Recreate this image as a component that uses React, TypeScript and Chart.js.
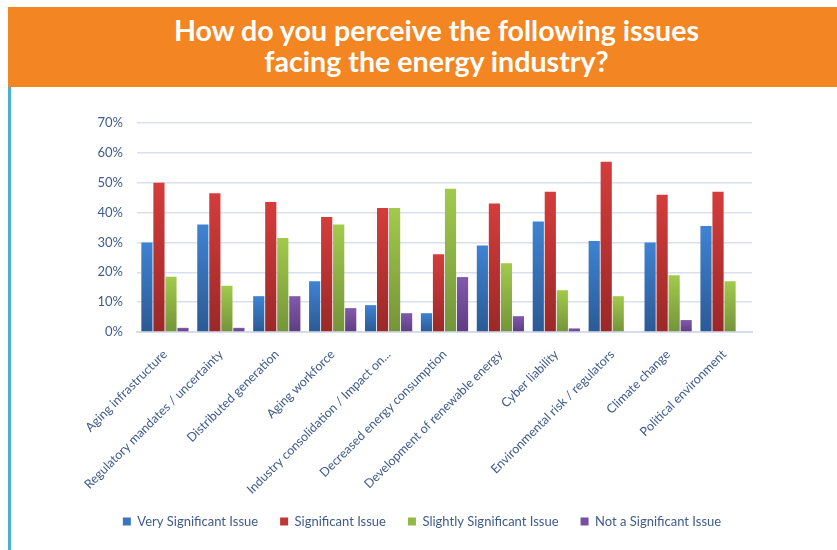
import React, { useEffect, useRef } from "react";
import { Chart, registerables } from "chart.js";

Chart.register(...registerables);

const categories = [
  "Aging infrastructure",
  "Regulatory mandates / uncertainty",
  "Distributed generation",
  "Aging workforce",
  "Industry consolidation / Impact on...",
  "Decreased energy consumption",
  "Development of renewable energy",
  "Cyber liability",
  "Environmental risk / regulators",
  "Climate change",
  "Political environment",
];

const seriesNames = [
  "Very Significant Issue",
  "Significant Issue",
  "Slightly Significant Issue",
  "Not a Significant Issue",
];

const verySignificant = [30, 36, 12, 17, 9, 6.3, 29, 37, 30.5, 30, 35.5];
const significant = [50, 46.5, 43.5, 38.5, 41.5, 26, 43, 47, 57, 46, 47];
const slightlySignificant = [18.5, 15.5, 31.5, 36, 41.5, 48, 23, 14, 12, 19, 17];
const notSignificant = [1.4, 1.4, 12, 8, 6.3, 18.4, 5.3, 1.2, 0, 4, 0];

const yTicks = [0, 10, 20, 30, 40, 50, 60, 70];

const TEXT = "#3F5B8A";

function grad(top: string, bottom: string) {
  return (ctx: any) => {
    const chart = ctx.chart;
    const area = chart.chartArea;
    if (!area || ctx.type !== "data") return top;
    const v = ctx.raw as number;
    const yScale = chart.scales.y;
    const y0 = yScale.getPixelForValue(v);
    const y1 = yScale.getPixelForValue(0);
    if (!(y1 > y0)) return top;
    const g = chart.ctx.createLinearGradient(0, y0, 0, y1);
    g.addColorStop(0, top);
    g.addColorStop(1, bottom);
    return g;
  };
}

export default function App() {
  const ref = useRef<HTMLCanvasElement | null>(null);

  useEffect(() => {
    if (!ref.current) return;
    const values = [verySignificant, significant, slightlySignificant, notSignificant];
    const colors = [
      ["#3E83D2", "#2B5A95", "#3A75C0"],
      ["#D43D3B", "#9B2828", "#C03535"],
      ["#A2CA4C", "#74943A", "#92B845"],
      ["#8259AC", "#5E3E84", "#7550A0"],
    ];
    const chart = new Chart(ref.current, {
      type: "bar",
      data: {
        labels: categories,
        datasets: values.map((d, i) => ({
          label: seriesNames[i],
          data: d,
          backgroundColor: grad(colors[i][0], colors[i][1]),
          borderWidth: 0,
          categoryPercentage: 0.86,
          barPercentage: 0.93,
        })),
      },
      options: {
        animation: false,
        responsive: false,
        maintainAspectRatio: false,
        layout: { padding: { top: 35, right: 80, bottom: 0, left: 80 } },
        plugins: {
          tooltip: { enabled: false },
          legend: {
            position: "bottom",
            labels: {
              boxWidth: 8,
              boxHeight: 8,
              padding: 22,
              color: TEXT,
              font: { family: "Lato, sans-serif", size: 13 },
              generateLabels: (c: any) =>
                c.data.datasets.map((ds: any, i: number) => ({
                  text: ds.label,
                  fillStyle: colors[i][2],
                  strokeStyle: colors[i][2],
                  lineWidth: 0,
                  fontColor: TEXT,
                  hidden: false,
                  datasetIndex: i,
                })),
            },
          },
        },
        scales: {
          x: {
            grid: { display: false },
            border: { display: true, color: "#D5DCEB", width: 2 },
            ticks: {
              minRotation: 45,
              maxRotation: 45,
              autoSkip: false,
              padding: 7,
              color: TEXT,
              font: { family: "Lato, sans-serif", size: 12.5 },
            },
            afterFit: (s: any) => {
              s.height = 161;
              s.paddingLeft = 0;
              s.paddingRight = 0;
              s._computeLabelArea = () => undefined;
            },
          },
          y: {
            min: 0,
            max: 70,
            afterBuildTicks: (s: any) => {
              s.ticks = yTicks.map((v) => ({ value: v }));
            },
            grid: { color: "#D9DFEC", lineWidth: 1.5, drawTicks: false },
            border: { display: false },
            ticks: {
              padding: 14,
              color: TEXT,
              font: { family: "Lato, sans-serif", size: 13 },
              callback: (v: any) => `${v}%`,
            },
            afterFit: (s: any) => {
              s.width = 45;
            },
          },
        },
      },
    });
    return () => chart.destroy();
  }, []);

  return (
    <div style={{ position: "absolute", left: 0, top: 0, width: 837, height: 550, background: "#fff", overflow: "hidden" }}>
      <div
        style={{
          position: "absolute",
          left: 8,
          top: 7,
          width: 829,
          height: 80,
          background: "#F38623",
        }}
      >
        <div
          style={{
            position: "absolute",
            left: 14,
            top: 8,
            width: 829,
            textAlign: "center",
            color: "#fff",
            fontFamily: "Lato, sans-serif",
            fontWeight: 700,
            fontSize: 28.6,
            lineHeight: "31px",
          }}
        >
          How do you perceive the following issues
          <br />
          facing the energy industry?
        </div>
      </div>
      <div style={{ position: "absolute", left: 8, top: 87, width: 3, height: 463, background: "#4BB0CC" }} />
      <div style={{ position: "absolute", left: 12, top: 88, width: 820, height: 450 }}>
        <canvas ref={ref} width={820} height={450} style={{ width: 820, height: 450 }} />
      </div>
    </div>
  );
}
